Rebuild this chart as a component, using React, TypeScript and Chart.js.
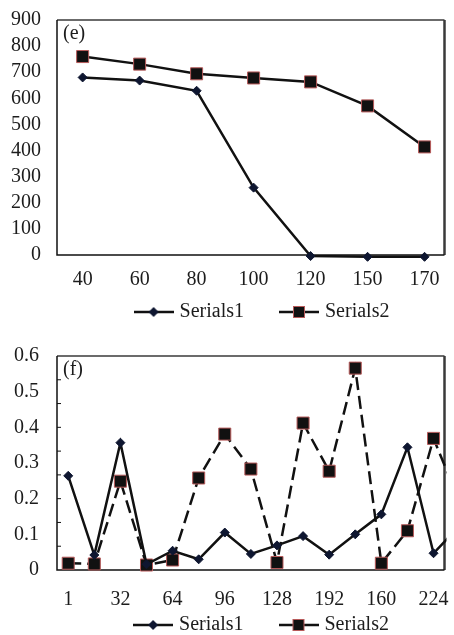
import React, { useEffect, useRef } from 'react';
import { Chart, registerables } from 'chart.js';

Chart.register(...registerables);

// ---------- data ----------
const legendNames = ['Serials1', 'Serials2'];

const xLabelsE = ['40', '60', '80', '100', '120', '150', '170'];
const serialsE1 = [680, 668, 629, 258, -4, -7, -7];
const serialsE2 = [760, 731, 694, 678, 663, 571, 414];

// panel (f): one point per sample, a tick label on every second sample
const xLabelsF = ['1', '', '32', '', '64', '', '96', '', '128', '', '192', '', '160', '', '224', ''];
const serialsF1 = [0.264, 0.042, 0.357, 0.016, 0.054, 0.03, 0.105, 0.045, 0.069, 0.095, 0.043, 0.1, 0.156, 0.344, 0.047, 0.124];
const serialsF2 = [0.019, 0.017, 0.249, 0.014, 0.028, 0.258, 0.381, 0.283, 0.021, 0.412, 0.277, 0.566, 0.019, 0.11, 0.369, 0.19];

const FONT_FAMILY = '"Liberation Serif", "Times New Roman", serif';
const TEXT_COLOR = '#1c1c1c';

function makeIcon(kind: 'diamond' | 'square') {
  const c = document.createElement('canvas');
  c.width = 40;
  c.height = 14;
  const ctx = c.getContext('2d')!;
  ctx.strokeStyle = '#111';
  ctx.lineWidth = 2.5;
  ctx.beginPath();
  ctx.moveTo(0, 7);
  ctx.lineTo(40, 7);
  ctx.stroke();
  if (kind === 'diamond') {
    ctx.fillStyle = '#0e1630';
    ctx.beginPath();
    ctx.moveTo(20, 2);
    ctx.lineTo(25, 7);
    ctx.lineTo(20, 12);
    ctx.lineTo(15, 7);
    ctx.closePath();
    ctx.fill();
  } else {
    ctx.fillStyle = '#111';
    ctx.fillRect(14, 1, 12, 12);
    ctx.strokeStyle = '#b75a5a';
    ctx.lineWidth = 1;
    ctx.strokeRect(14.5, 1.5, 11, 11);
  }
  return c;
}

const LEGEND_PAD = 39;

const framePlugin = {
  id: 'frame',
  afterLayout(chart: any, _args: any, opts: any) {
    const lg = chart.legend;
    if (!lg) return;
    if (opts.legendShift) {
      lg.left += opts.legendShift;
      lg.right += opts.legendShift;
    }
    if (opts.legendY != null) {
      const h = lg.height;
      lg.top = opts.legendY - LEGEND_PAD - 10;
      lg.bottom = lg.top + h;
    }
  },
  beforeDatasetsDraw(chart: any, _args: any, opts: any) {
    const { ctx, chartArea } = chart;
    const { left, top, right, bottom } = chartArea;
    ctx.save();
    ctx.strokeStyle = '#3a3a3a';
    ctx.lineWidth = 1.5;
    ctx.beginPath();
    ctx.moveTo(left, top);
    ctx.lineTo(right, top);
    ctx.stroke();
    ctx.lineWidth = 2.5;
    ctx.beginPath();
    ctx.moveTo(right, top);
    ctx.lineTo(right, bottom);
    ctx.stroke();
    ctx.strokeStyle = '#111';
    ctx.lineWidth = 1.5;
    ctx.beginPath();
    ctx.moveTo(left, top);
    ctx.lineTo(left, bottom);
    ctx.lineTo(right, bottom);
    ctx.stroke();
    if (opts.minor) {
      ctx.lineWidth = 1;
      for (let i = 1; i < opts.minor; i++) {
        const y = top + ((bottom - top) * i) / opts.minor;
        ctx.beginPath();
        ctx.moveTo(left, y);
        ctx.lineTo(left + 4, y);
        ctx.stroke();
      }
    }
    if (opts.text) {
      ctx.font = `20px ${FONT_FAMILY}`;
      ctx.fillStyle = TEXT_COLOR;
      ctx.textBaseline = 'middle';
      ctx.textAlign = 'left';
      ctx.fillText(opts.text, left + 6, top + 14);
    }
    ctx.restore();
  },
};

type Props = {
  variant: 'e' | 'f';
  top: number;
  height: number;
  padTop: number;
  padRight: number;
  labelPad: number;
  yPad: number;
  legendY: number;
};

function LineChart(p: Props) {
  const ref = useRef<HTMLCanvasElement>(null);
  useEffect(() => {
    const font = { family: FONT_FAMILY, size: 20 };
    const icons = [makeIcon('diamond'), makeIcon('square')];
    const isF = p.variant === 'f';
    const labels = isF ? xLabelsF : xLabelsE;
    const s1 = isF ? serialsF1 : serialsE1;
    const s2 = isF ? serialsF2 : serialsE2;

    const d1 = s1.map((y, i) => ({ x: i, y }));
    const d2 = s2.map((y, i) => ({ x: i, y }));

    const xScale: any = {
      type: 'linear',
      min: isF ? -0.43 : -0.45,
      max: isF ? 14.42 : 6.35,
      grid: { display: false, drawTicks: false },
      border: { display: false },
      afterBuildTicks: (s: any) => {
        s.ticks = labels
          .map((lab, i) => ({ value: i, lab }))
          .filter((t) => t.lab !== '' && t.value <= s.max)
          .map((t) => ({ value: t.value }));
      },
      ticks: {
        autoSkip: false,
        maxRotation: 0,
        font,
        color: TEXT_COLOR,
        padding: p.labelPad,
        callback: (v: any) => labels[Math.round(v)] ?? '',
      },
      afterFit: (s: any) => {
        s.height = 40;
        s.paddingLeft = 0;
        s.paddingRight = 0;
      },
    };

    const chart = new Chart(ref.current!, {
      type: 'line',
      data: {
        datasets: [
          {
            label: legendNames[0],
            data: d1,
            borderColor: '#111',
            borderWidth: 2.5,
            pointStyle: 'rectRot',
            pointRadius: 4.5,
            pointBackgroundColor: '#0e1630',
            pointBorderColor: '#0e1630',
            pointBorderWidth: 1,
            tension: 0,
            clip: isF ? 2 : false,
          },
          {
            label: legendNames[1],
            data: d2,
            borderColor: '#111',
            borderWidth: 2.5,
            borderDash: isF ? [13, 6] : [],
            pointStyle: 'rect',
            pointRadius: 8.5,
            pointBackgroundColor: '#111',
            pointBorderColor: '#b75a5a',
            pointBorderWidth: 1,
            tension: 0,
            clip: isF ? 2 : false,
          },
        ],
      } as any,
      options: {
        responsive: false,
        animation: false,
        layout: { padding: { top: p.padTop, right: p.padRight, left: 0, bottom: 0 } },
        scales: {
          x: xScale,
          y: {
            min: 0,
            max: isF ? 0.6 : 900,
            grid: { display: false, drawTicks: false },
            border: { display: false },
            ticks: { stepSize: isF ? 0.1 : 100, autoSkip: false, font, color: TEXT_COLOR, padding: p.yPad },
            afterFit: (s: any) => {
              s.width = 57;
              s.paddingTop = 0;
              s.paddingBottom = 0;
            },
          },
        },
        plugins: {
          tooltip: { enabled: false },
          legend: {
            position: 'bottom',
            labels: {
              usePointStyle: true,
              pointStyleWidth: 32,
              padding: LEGEND_PAD,
              font,
              color: TEXT_COLOR,
              generateLabels: () =>
                legendNames.map((name, i) => ({
                  text: name,
                  pointStyle: icons[i] as any,
                  fillStyle: '#111',
                  strokeStyle: '#111',
                  lineWidth: 0,
                  hidden: false,
                  datasetIndex: i,
                  fontColor: TEXT_COLOR,
                })),
            },
          },
          frame: { text: isF ? '(f)' : '(e)', minor: isF ? 9 : 0, legendShift: 39, legendY: p.legendY },
        } as any,
      },
      plugins: [framePlugin],
    } as any);
    return () => chart.destroy();
  }, []);
  return (
    <canvas
      ref={ref}
      width={454}
      height={p.height}
      style={{ position: 'absolute', left: 0, top: p.top, width: 454, height: p.height }}
    />
  );
}

export default function App() {
  return (
    <div
      style={{
        position: 'absolute',
        left: 0,
        top: 0,
        width: 454,
        height: 635,
        overflow: 'hidden',
        background: '#fff',
      }}
    >
      <LineChart variant="e" top={0} height={364} padTop={20} padRight={5} labelPad={13} yPad={16} legendY={312} />
      <LineChart variant="f" top={313} height={366} padTop={43} padRight={6} labelPad={18} yPad={18} legendY={312} />
    </div>
  );
}
